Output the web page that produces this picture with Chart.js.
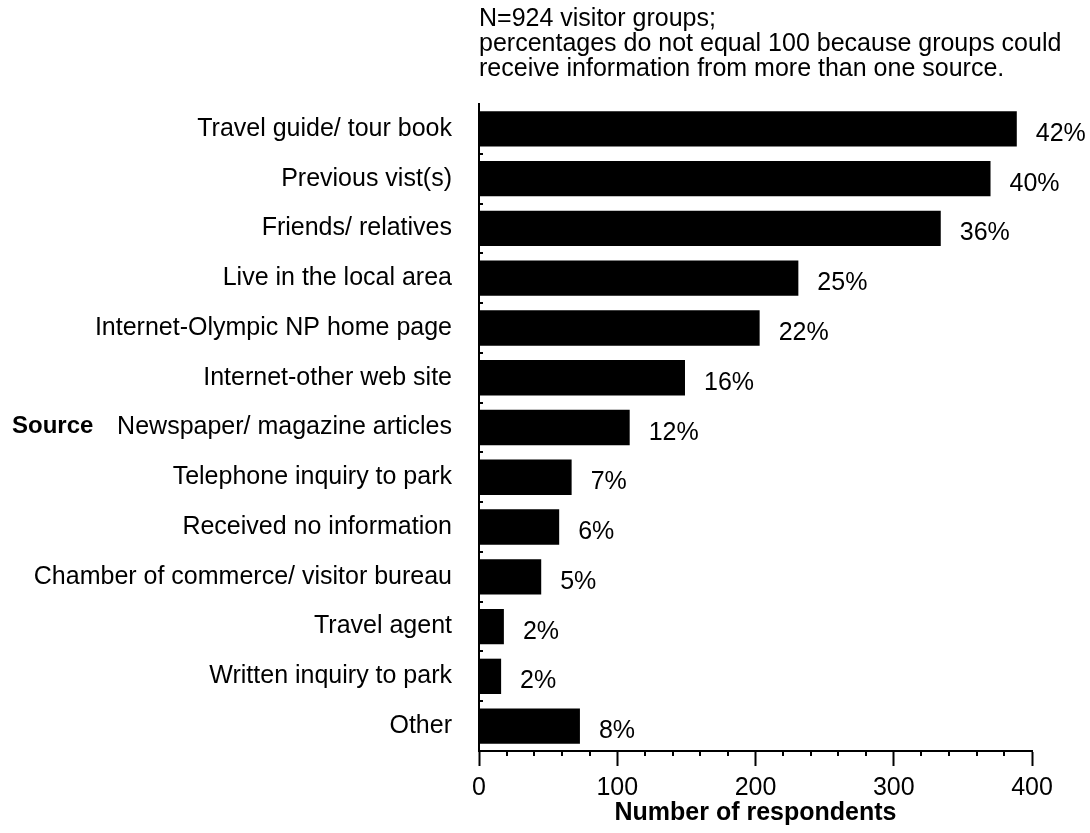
<!DOCTYPE html>
<html>
<head>
<meta charset="utf-8">
<title>Sources of information</title>
<script src="https://cdn.jsdelivr.net/npm/chart.js@4.4.0/dist/chart.umd.min.js"></script>
<style>
  html, body { margin: 0; padding: 0; background: #fff; }
  #wrap { width: 1090px; height: 833px; position: relative; }
</style>
</head>
<body>
<div id="wrap"><canvas id="chart"></canvas></div>
<script>
/* Visitor groups' sources of information — horizontal bar chart */

const FONT = '"Liberation Sans", Arial, Helvetica, sans-serif';

// ─── Data ────────────────────────────────────────────────────────────────────

const sources = [
  'Travel guide/ tour book',
  'Previous vist(s)',
  'Friends/ relatives',
  'Live in the local area',
  'Internet-Olympic NP home page',
  'Internet-other web site',
  'Newspaper/ magazine articles',
  'Telephone inquiry to park',
  'Received no information',
  'Chamber of commerce/ visitor bureau',
  'Travel agent',
  'Written inquiry to park',
  'Other',
];

const respondents = [389, 370, 334, 231, 203, 149, 109, 67, 58, 45, 18, 16, 73];

const percentLabels = ['42%', '40%', '36%', '25%', '22%', '16%', '12%', '7%', '6%', '5%', '2%', '2%', '8%'];

const majorTicks = [0, 100, 200, 300, 400];

const noteLines = [
  'N=924 visitor groups;',
  'percentages do not equal 100 because groups could',
  'receive information from more than one source.',
];

const axisTitle = 'Number of respondents';
const sideTitle = 'Source';

// ─── Extra drawing: value labels, note, side title, small ticks ─────────────

const annotate = {
  id: 'annotate',
  afterDraw(chart) {
    const { ctx, chartArea: a, scales: { x, y } } = chart;
    ctx.save();
    ctx.fillStyle = '#000';
    ctx.textAlign = 'left';
    ctx.textBaseline = 'alphabetic';

    // percentage at the end of each bar
    ctx.font = `25px ${FONT}`;
    respondents.forEach((v, i) => {
      ctx.fillText(percentLabels[i], x.getPixelForValue(v) + 19, y.getPixelForValue(i) + 12);
    });

    // note above the plot
    ctx.font = `25px ${FONT}`;
    noteLines.forEach((t, i) => ctx.fillText(t, a.left, 26 + i * 25));

    // "Source" beside the middle category
    ctx.font = `bold 24px ${FONT}`;
    ctx.fillText(sideTitle, 12, y.getPixelForValue(Math.floor(sources.length / 2)) + 5);

    // small inward ticks between categories
    ctx.strokeStyle = '#000';
    ctx.lineWidth = 2;
    for (let i = 1; i < sources.length; i++) {
      const py = Math.round((y.getPixelForValue(i - 1) + y.getPixelForValue(i)) / 2);
      ctx.beginPath();
      ctx.moveTo(a.left, py);
      ctx.lineTo(a.left + 4, py);
      ctx.stroke();
    }

    // minor ticks on the value axis
    x.ticks.forEach(t => {
      if (majorTicks.includes(t.value)) return;
      const px = Math.round(x.getPixelForValue(t.value));
      ctx.beginPath();
      ctx.moveTo(px, a.bottom);
      ctx.lineTo(px, a.bottom + 5);
      ctx.stroke();
    });
    ctx.restore();
  },
};

// ─── Chart ───────────────────────────────────────────────────────────────────

Chart.defaults.font.family = FONT;
Chart.defaults.color = '#000';

new Chart(document.getElementById('chart'), {
  type: 'bar',
  data: {
    labels: sources,
    datasets: [{
      data: respondents,
      backgroundColor: '#000',
      borderWidth: 0,
      barPercentage: 0.71,
      categoryPercentage: 1,
    }],
  },
  options: {
    indexAxis: 'y',
    responsive: true,
    maintainAspectRatio: false,
    animation: false,
    layout: { padding: { top: 104, right: 58, left: 0, bottom: 0 } },
    plugins: { legend: { display: false }, tooltip: { enabled: false } },
    scales: {
      y: {
        grid: { display: false, drawTicks: false, tickLength: 0 },
        border: { display: true, color: '#000', width: 2 },
        ticks: { font: { size: 25 }, padding: 27, color: '#000', autoSkip: false },
        afterFit(scale) { scale.width = 479; },
      },
      x: {
        min: 0,
        max: 400,
        grid: {
          drawOnChartArea: false,
          drawTicks: true,
          tickLength: 15,
          tickWidth: 2,
          tickColor: ctx => (majorTicks.includes(ctx.tick.value) ? '#000' : 'rgba(0,0,0,0)'),
        },
        border: { display: true, color: '#000', width: 2 },
        ticks: {
          stepSize: 20,
          autoSkip: false,
          maxRotation: 0,
          padding: 7,
          font: { size: 25 },
          color: '#000',
          callback: v => (majorTicks.includes(v) ? String(v) : ''),
        },
        title: {
          display: true,
          text: axisTitle,
          font: { size: 25, weight: 'bold' },
          color: '#000',
          padding: { top: 0, bottom: 5 },
        },
        afterFit(scale) { scale.height = 82; },
      },
    },
  },
  plugins: [annotate],
});
</script>
</body>
</html>
